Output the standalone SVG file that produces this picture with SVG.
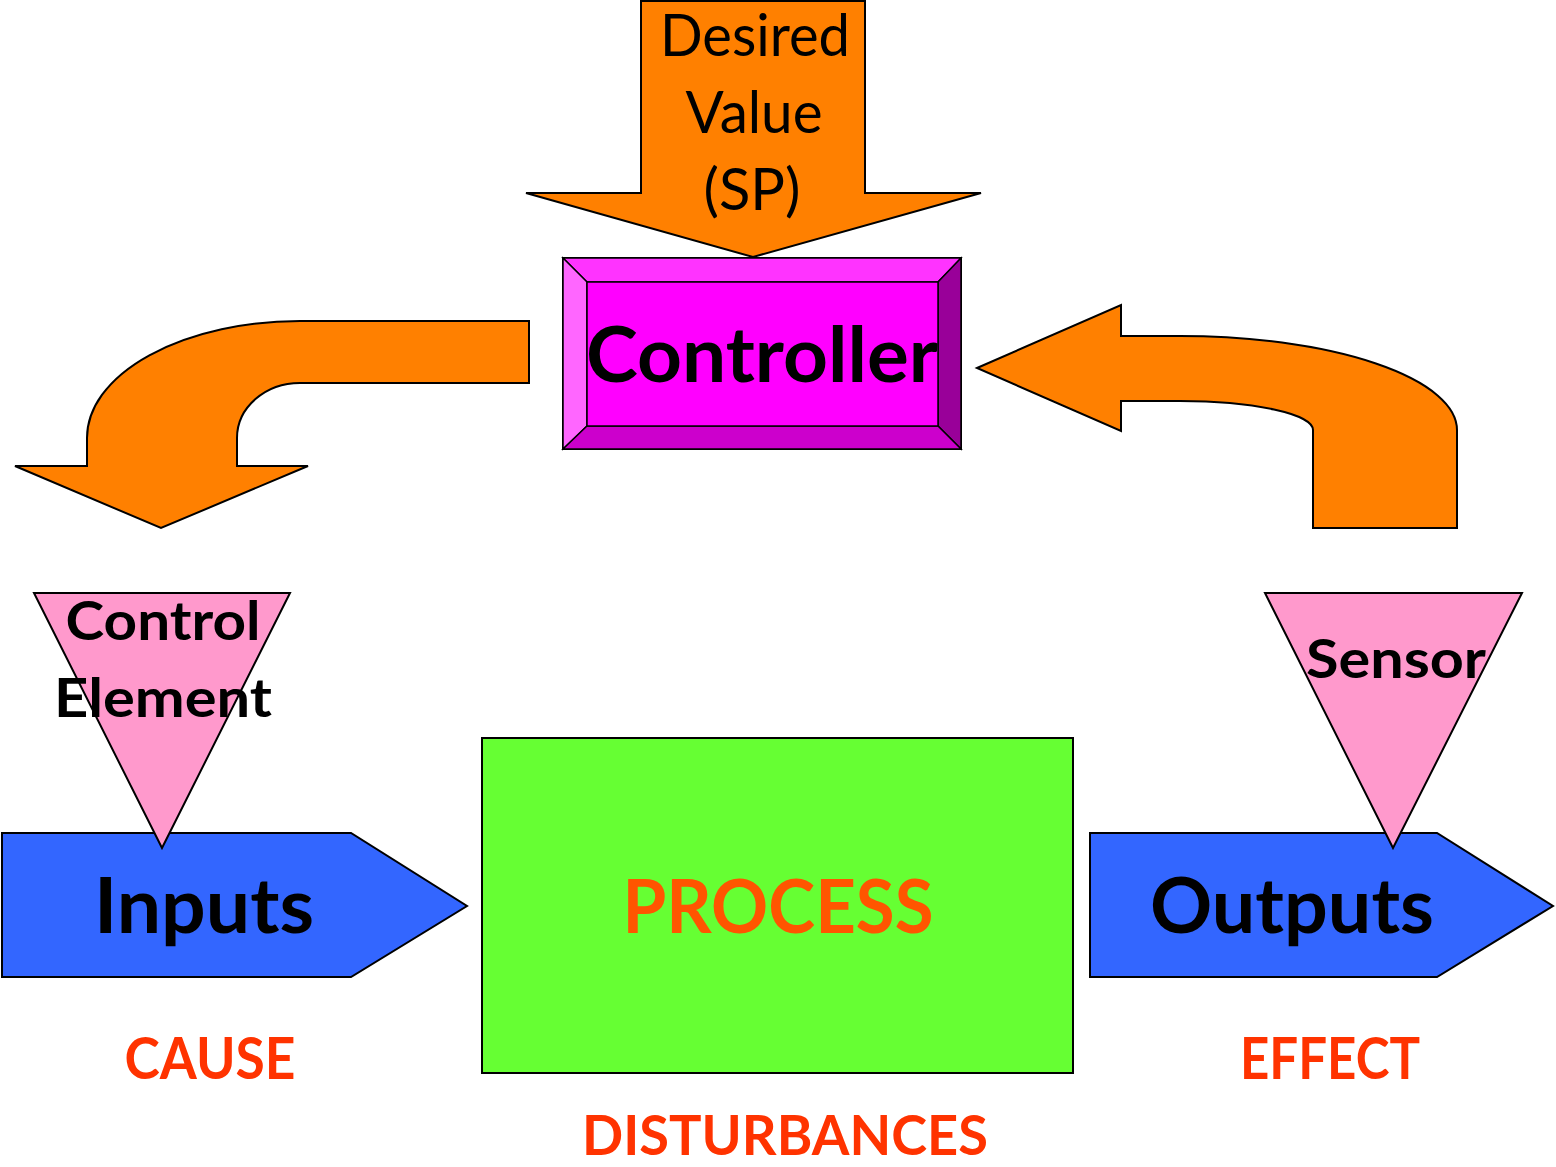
<svg xmlns="http://www.w3.org/2000/svg" width="1556" height="1167" viewBox="0 0 1556 1167">
<style>
.orng{fill:#FF8000;stroke:#000;stroke-width:2;stroke-linejoin:miter}
.tri{fill:#FF99CC;stroke:#000;stroke-width:2}
.blue{fill:#3366FF;stroke:#000;stroke-width:2}
.t{font-family:Lato,"Open Sans","Liberation Sans",sans-serif;text-anchor:middle}
.b{font-weight:bold}
.blk{fill:#000}
.red{fill:#FF3300}
</style>
<rect width="1556" height="1167" fill="#fff"/>
<g id="connectors">
<path id="setpoint-arrow" class="orng" d="M641,1 H865 V193 H981 L753,257 L526,193 H641 Z"/>
<path id="output-arrow" class="orng" d="M529,321 V383 H300 A63,55 0 0 0 237,438 V466 H308 L161,528 L15,466 H87 V438 A213,117 0 0 1 300,321 Z"/>
<path id="feedback-arrow" class="orng" d="M977,368 L1121,305 V336 H1180 A277,94 0 0 1 1457,430 V528 H1313 V430 A133,29 0 0 0 1180,401 H1121 V431 Z"/>
</g>
<g id="setpoint">
<text class="t blk" font-size="58" x="755" y="56" textLength="190" lengthAdjust="spacingAndGlyphs">Desired</text>
<text class="t blk" font-size="58" x="754" y="133" textLength="137" lengthAdjust="spacingAndGlyphs">Value</text>
<text class="t blk" font-size="58" x="752" y="210" textLength="97" lengthAdjust="spacingAndGlyphs">(SP)</text>
</g>
<g id="controller">
<rect x="563" y="258" width="398" height="191" fill="#FF00FF" stroke="#000" stroke-width="2"/>
<polygon points="563,258 961,258 938,282 587,282" fill="#FF33FF" stroke="#000" stroke-width="1.5"/>
<polygon points="563,258 587,282 587,426 563,449" fill="#FF66FF" stroke="#000" stroke-width="1.5"/>
<polygon points="961,258 961,449 938,426 938,282" fill="#990099" stroke="#000" stroke-width="1.5"/>
<polygon points="563,449 587,426 938,426 961,449" fill="#CC00CC" stroke="#000" stroke-width="1.5"/>
<rect x="587" y="282" width="351" height="144" fill="#FF00FF" stroke="#000" stroke-width="1.5"/>
<text class="t b blk" font-size="76" x="762" y="382" textLength="352" lengthAdjust="spacingAndGlyphs">Controller</text>
</g>
<g id="inputs">
<polygon class="blue" points="2,833 351,833 467,906 351,977 2,977"/>
<text class="t b blk" font-size="76" x="204" y="933" textLength="220" lengthAdjust="spacingAndGlyphs">Inputs</text>
</g>
<g id="outputs">
<polygon class="blue" points="1090,833 1437,833 1553,906 1437,977 1090,977"/>
<text class="t b blk" font-size="76" x="1292" y="933" textLength="284" lengthAdjust="spacingAndGlyphs">Outputs</text>
</g>
<g id="control-element">
<polygon class="tri" points="34,593 290,593 162,848"/>
<text class="t b blk" font-size="53" x="163" y="640" textLength="195" lengthAdjust="spacingAndGlyphs">Control</text>
<text class="t b blk" font-size="53" x="163" y="717" textLength="218" lengthAdjust="spacingAndGlyphs">Element</text>
</g>
<g id="sensor">
<polygon class="tri" points="1265,593 1522,593 1393,848"/>
<text class="t b blk" font-size="53" x="1396" y="678" textLength="180" lengthAdjust="spacingAndGlyphs">Sensor</text>
</g>
<g id="process">
<rect x="482" y="738" width="591" height="335" fill="#66FF33" stroke="#000" stroke-width="2"/>
<text class="t b" fill="#FF5500" font-size="75" x="778" y="933" textLength="311" lengthAdjust="spacingAndGlyphs">PROCESS</text>
</g>
<g id="labels">
<text class="t b red" font-size="58" x="210" y="1079" textLength="171" lengthAdjust="spacingAndGlyphs">CAUSE</text>
<text class="t b red" font-size="58" x="1330" y="1079" textLength="180" lengthAdjust="spacingAndGlyphs">EFFECT</text>
<text class="t b red" font-size="55" x="785" y="1155" textLength="406" lengthAdjust="spacingAndGlyphs">DISTURBANCES</text>
</g>
</svg>
